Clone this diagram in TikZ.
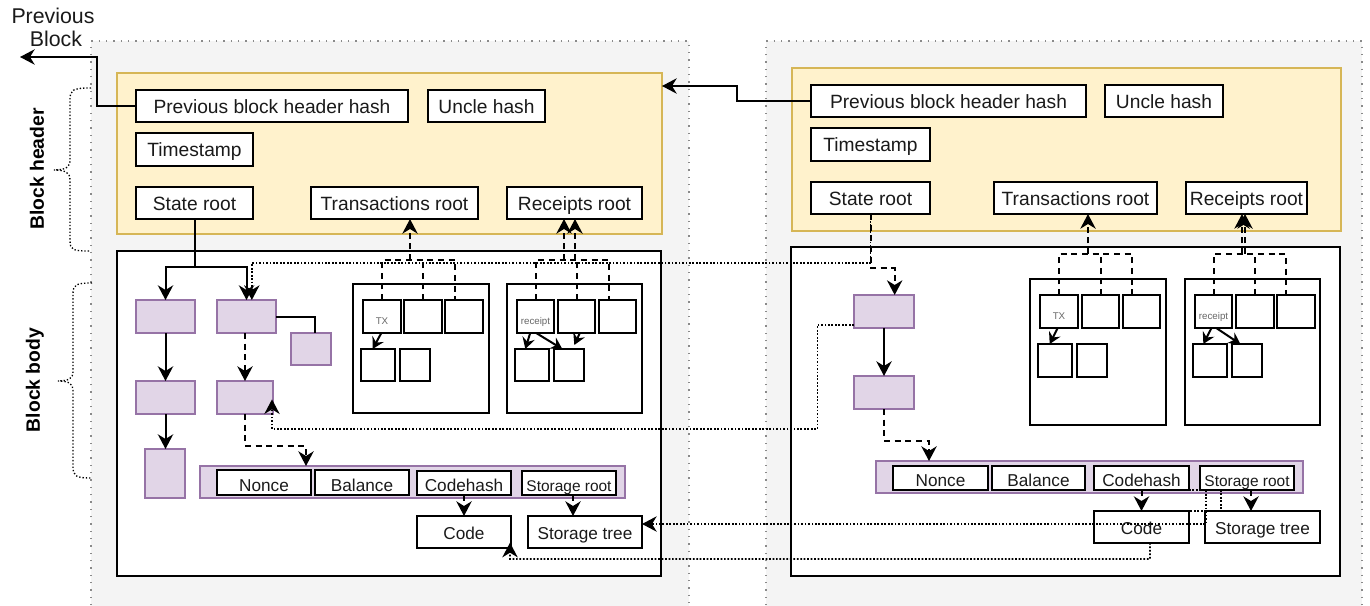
\documentclass[tikz,border=0pt]{standalone}
\usepackage{fontspec}
\setmainfont{Liberation Sans}
\usetikzlibrary{arrows.meta,calc}
\definecolor{yfill}{HTML}{FFF2CC}
\definecolor{ydraw}{HTML}{D6B656}
\definecolor{pfill}{HTML}{E1D5E7}
\definecolor{pdraw}{HTML}{9673A6}
\definecolor{gfill}{HTML}{F4F4F4}
\definecolor{txtc}{HTML}{1A1A1A}
\definecolor{gborder}{HTML}{8A8A8A}

\newcommand\bx[7]{\node[#6, minimum width={(#4-(#2))*0.75pt}, minimum height={(#5-(#3))*0.75pt}] (#1) at ({(#2+#4)/2},{(#3+#5)/2}) {#7};}

\tikzset{
  base/.style={inner sep=0pt, outer sep=0pt, text=txtc},
  wb/.style={base, draw=black, line width=1.5pt, fill=white, font=\fontsize{14.4}{16}\selectfont, text height=10.6pt, text depth=0pt},
  pb/.style={base, draw=pdraw, line width=1.5pt, fill=pfill},
  hd/.style={base, draw=ydraw, line width=1.2pt, fill=yfill},
  bd/.style={base, draw=black, line width=1.5pt, fill=white},
  sm/.style={wb, font=\fontsize{7.3}{8}\selectfont, text=black!60, text height=12pt},
  af/.style={wb, font=\fontsize{12.9}{14}\selectfont, text height=13.2pt},
  afs/.style={af, font=\fontsize{11.6}{13}\selectfont},
  ac/.style={wb, font=\fontsize{12.9}{14}\selectfont, text height=11pt},
  conn/.style={line width=1.5pt, draw=black},
  arr/.style={-{Stealth[length=11pt,width=11.5pt,inset=3.5pt]}},
  sarr/.style={-{Stealth[length=8.5pt,width=9.5pt,inset=3pt]}},
  dsh/.style={dash pattern=on 4.5pt off 3.5pt},
  dot/.style={line width=1.3pt, dash pattern=on 1.3pt off 1.3pt},
  blockborder/.style={draw=gborder, line width=1pt, dash pattern=on 1pt off 4.5pt},
  brace/.style={draw=black, line width=1pt, dash pattern=on 1pt off 1.5pt},
  side/.style={base, font=\bfseries\fontsize{14.5}{16}\selectfont, text=black, rotate=90},
  lbl/.style={base, font=\fontsize{16}{17}\selectfont, anchor=base}
}

\begin{document}
\begin{tikzpicture}[x=0.75pt,y=-0.75pt]
\useasboundingbox (0,0) rectangle (1370,606);
\fill[white] (0,0) rectangle (1370,606);
\begin{scope}
\clip (0,0) rectangle (1370,606);
% gray blocks
\fill[gfill] (91,41) rectangle (689,620);
\draw[blockborder] (91,620) -- (91,41) -- (689,41) -- (689,620);
\fill[gfill] (766,41) rectangle (1362,620);
\draw[blockborder] (766,620) -- (766,41) -- (1362,41) -- (1362,620);
\end{scope}

% labels on the left
\node[lbl] (lblprev) at (53,24) {Previous};
\node[lbl] (lblblock) at (56,46.7) {Block};
\node[side] (lblhdr) at (37,169) {Block header};
\node[side] (lblbody) at (35,380) {Block body};
\draw[brace] (91,88) .. controls (72,88) and (70,90) .. (70,100) -- (70,160)
  .. controls (70,167) and (66,170) .. (54,170) .. controls (66,170) and (70,173) .. (70,180)
  -- (70,240) .. controls (70,250) and (72,251) .. (91,251);
\draw[brace] (92,283) .. controls (75,283) and (73,285) .. (73,295) -- (73,372)
  .. controls (73,378) and (69,381) .. (58,381) .. controls (69,381) and (73,384) .. (73,390)
  -- (73,466) .. controls (73,476) and (75,478) .. (92,478);

%================ LEFT BLOCK ================
\bx{hdrL}{117}{73}{662}{234}{hd}{}
\bx{phL}{136}{90}{408}{122}{wb}{Previous block header hash}
\bx{uhL}{428}{90}{545}{122}{wb}{Uncle hash}
\bx{tsL}{136}{133}{253}{166}{wb}{Timestamp}
\bx{srL}{136}{187}{253}{219}{wb}{State root}
\bx{trL}{311}{187}{478}{219}{wb}{Transactions root}
\bx{rrL}{507}{187}{642}{219}{wb}{Receipts root}
\bx{bodyL}{117}{251}{661}{576}{bd}{}
\bx{a1L}{136}{300}{195}{333}{pb}{}
\bx{a2L}{136}{381}{195}{414}{pb}{}
\bx{a3L}{145}{449}{185}{498}{pb}{}
\bx{b1L}{217}{300}{276}{333}{pb}{}
\bx{b2L}{217}{381}{273}{414}{pb}{}
\bx{cL}{291}{333}{331}{365}{pb}{}
\bx{txcL}{353}{284}{489}{413}{bd}{}
\bx{tx1L}{363}{300}{401}{333}{sm}{TX}
\bx{tx2L}{404}{300}{442}{333}{wb}{}
\bx{tx3L}{445}{300}{483}{333}{wb}{}
\bx{tx4L}{361}{349}{395}{381}{wb}{}
\bx{tx5L}{400}{349}{430}{381}{wb}{}
\bx{rccL}{507}{284}{642}{413}{bd}{}
\bx{rc1L}{517}{300}{554}{333}{sm}{receipt}
\bx{rc2L}{558}{300}{595}{333}{wb}{}
\bx{rc3L}{599}{300}{636}{333}{wb}{}
\bx{rc4L}{515}{349}{549}{381}{wb}{}
\bx{rc5L}{554}{349}{584}{381}{wb}{}
\bx{accL}{200}{466}{625}{498}{pb}{}
\bx{noL}{217}{470}{311}{495}{af}{Nonce}
\bx{baL}{315}{470}{409}{495}{af}{Balance}
\bx{chL}{417}{471}{511}{495}{af}{Codehash}
\bx{stL}{522}{471}{616}{495}{afs}{Storage root}
\bx{coL}{417}{516}{511}{548}{ac}{Code}
\bx{sttL}{528}{516}{642}{548}{ac}{Storage tree}

%================ RIGHT BLOCK ================
\bx{hdrR}{792}{68}{1341}{231}{hd}{}
\bx{phR}{811}{85}{1086}{117}{wb}{Previous block header hash}
\bx{uhR}{1105}{85}{1223}{117}{wb}{Uncle hash}
\bx{tsR}{811}{128}{930}{161}{wb}{Timestamp}
\bx{srR}{811}{182}{930}{214}{wb}{State root}
\bx{trR}{994}{182}{1157}{214}{wb}{Transactions root}
\bx{rrR}{1186}{182}{1307}{214}{wb}{Receipts root}
\bx{bodyR}{791}{247}{1340}{576}{bd}{}
\bx{d1R}{854}{295}{914}{328}{pb}{}
\bx{d2R}{854}{376}{914}{409}{pb}{}
\bx{txcR}{1030}{279}{1166}{425}{bd}{}
\bx{tx1R}{1040}{295}{1078}{328}{sm}{TX}
\bx{tx2R}{1082}{295}{1119}{328}{wb}{}
\bx{tx3R}{1123}{295}{1160}{328}{wb}{}
\bx{tx4R}{1038}{344}{1072}{377}{wb}{}
\bx{tx5R}{1077}{344}{1107}{377}{wb}{}
\bx{rccR}{1185}{279}{1320}{425}{bd}{}
\bx{rc1R}{1195}{295}{1232}{328}{sm}{receipt}
\bx{rc2R}{1236}{295}{1274}{328}{wb}{}
\bx{rc3R}{1277}{295}{1315}{328}{wb}{}
\bx{rc4R}{1193}{344}{1227}{377}{wb}{}
\bx{rc5R}{1232}{344}{1262}{377}{wb}{}
\bx{accR}{876}{461}{1303}{493}{pb}{}
\bx{noR}{893}{466}{988}{490}{af}{Nonce}
\bx{baR}{992}{466}{1085}{490}{af}{Balance}
\bx{chR}{1094}{466}{1189}{490}{af}{Codehash}
\bx{stR}{1200}{466}{1294}{490}{afs}{Storage root}
\bx{coR}{1094}{511}{1189}{543}{ac}{Code}
\bx{sttR}{1205}{511}{1320}{543}{ac}{Storage tree}

%================ CONNECTORS ================
% previous block links
\coordinate (pbL) at (97,57);
\coordinate (prevEnd) at (20,57);
\draw[conn,arr] (phL.west) -| (pbL) -- (prevEnd);
\coordinate (pbR) at (737,86);
\draw[conn,arr] (phR.west) -| (pbR) -- (pbR -| hdrL.east);

% left state root tree
\coordinate (jL) at (194.5,267);
\draw[conn,arr] (srL.south) -- (jL) -| (a1L.north);
\draw[conn,arr] (jL) -| (b1L.north);
\draw[conn,arr] (a1L.south) -- (a1L.south |- a2L.north);
\draw[conn,arr] (a2L.south) -- (a2L.south |- a3L.north);
\draw[conn,dsh,arr] (b2L.north |- b1L.south) -- (b2L.north);
\draw[conn] (b1L.east) -| ([xshift=3pt]cL.north);
\coordinate (aL) at (306,446);
\draw[conn,dsh,arr] (b2L.south) |- (aL) -- (aL |- accL.north);
\draw[conn,dsh,arr] (chL.south) -- (coL.north);
\draw[conn,dsh,arr] ([xshift=3pt]stL.south) -- ([xshift=3pt]stL.south |- sttL.north);

% left transactions / receipts
\coordinate (tLh) at (410,260);
\draw[conn,dsh] (tx1L.north) -- (tx1L.north |- tLh) -- ([xshift=-6.75pt]tx3L.north |- tLh) -- ([xshift=-6.75pt]tx3L.north);
\draw[conn,dsh] (tx2L.north) -- (tx2L.north |- tLh);
\draw[conn,dsh,arr] (tLh) -- (tLh |- trL.south);
\draw[conn,sarr] ([xshift=-0.5pt]tx1L.south) -- ([xshift=-4pt]tx4L.north);
\coordinate (rLh) at (564,260);
\coordinate (rLh2) at (575,260);
\draw[conn,dsh] (rc1L.north) -- (rc1L.north |- rLh) -- ([xshift=-6.4pt]rc3L.north |- rLh) -- ([xshift=-6.4pt]rc3L.north);
\draw[conn,dsh] (rc2L.north) -- (rc2L.north |- rLh);
\draw[conn,dsh,arr] (rLh) -- (rLh |- rrL.south);
\draw[conn,dsh,arr] (rLh2) -- (rLh2 |- rrL.south);
\draw[conn,sarr] ([xshift=-4pt]rc1L.south) -- ([xshift=-5pt]rc4L.north);
\draw[conn,sarr] ([xshift=0.5pt]rc1L.south) -- ([xshift=-5pt]rc5L.north);
\draw[conn,sarr] ([xshift=2.5pt]rc2L.south) -- ([xshift=4pt,yshift=3pt]rc5L.north);

% right state root tree
\coordinate (yR) at (870.5,268);
\draw[conn,dsh,arr] (srR.south) -- (yR) -| ([xshift=8pt]d1R.north);
\draw[conn,arr] (d1R.south) -- (d2R.north);
\coordinate (aR) at (929,441);
\draw[conn,dsh,arr] (d2R.south) |- (aR) -- (aR |- accR.north);
\draw[conn,dsh,arr] (chR.south) -- (coR.north);
\draw[conn,dsh,arr] ([xshift=3pt]stR.south) -- ([xshift=3pt]stR.south |- sttR.north);

% right transactions / receipts
\coordinate (tRh) at (1088,254);
\draw[conn,dsh] (tx1R.north) -- (tx1R.north |- tRh) -- ([xshift=-7.1pt]tx3R.north |- tRh) -- ([xshift=-7.1pt]tx3R.north);
\draw[conn,dsh] (tx2R.north) -- (tx2R.north |- tRh);
\draw[conn,dsh,arr] (tRh) -- (tRh |- trR.south);
\draw[conn,sarr] ([xshift=-1pt]tx1R.south) -- ([xshift=-4pt]tx4R.north);
\coordinate (rRh) at (1242,254);
\coordinate (rRh2) at (1245,254);
\draw[conn,dsh] (rc1R.north) -- (rc1R.north |- rRh) -- ([xshift=-7.5pt]rc3R.north |- rRh) -- ([xshift=-7.5pt]rc3R.north);
\draw[conn,dsh] (rc2R.north) -- (rc2R.north |- rRh);
\draw[conn,dsh,arr] (rRh) -- (rRh |- rrR.south);
\draw[conn,dsh,arr] (rRh2) -- (rRh2 |- rrR.south);
\draw[conn,sarr] ([xshift=-1.5pt]rc1R.south) -- ([xshift=-5pt]rc4R.north);
\draw[conn,sarr] ([xshift=2pt]rc1R.south) -- ([xshift=-5pt]rc5R.north);

% cross-block dotted links
\coordinate (xR) at (870.5,263);
\draw[dot,arr] (srR.south) -- (xR) -| ([xshift=4pt]b1L.north);
\coordinate (dR1) at (817.5,429);
\coordinate (dL1) at (272,429);
\draw[dot,arr] ([yshift=-10pt]d1R.west) -| (dR1) -- (dL1) -- ([xshift=-0.75pt,yshift=11pt]b2L.south east);
\coordinate (cR1) at (1150,559);
\coordinate (cL1) at (510,559);
\draw[dot,arr] ([xshift=6.4pt]coR.south) -- (cR1) -- (cL1) -- ([xshift=-0.75pt,yshift=4pt]coL.south east);
\coordinate (q1) at (1206,490);
\coordinate (q2) at (1206,511);
\coordinate (sY) at (1206,524);
\draw[dot,arr] (chR.south east) -- (q1) -- (sY) -- (sY -| sttL.east);
\draw[dot] (q2) -- (coR.north east);
\draw[dot] ([xshift=-19.5pt]stR.south) -- ([xshift=-19.5pt]stR.south |- sttR.north);
\end{tikzpicture}
\end{document}
